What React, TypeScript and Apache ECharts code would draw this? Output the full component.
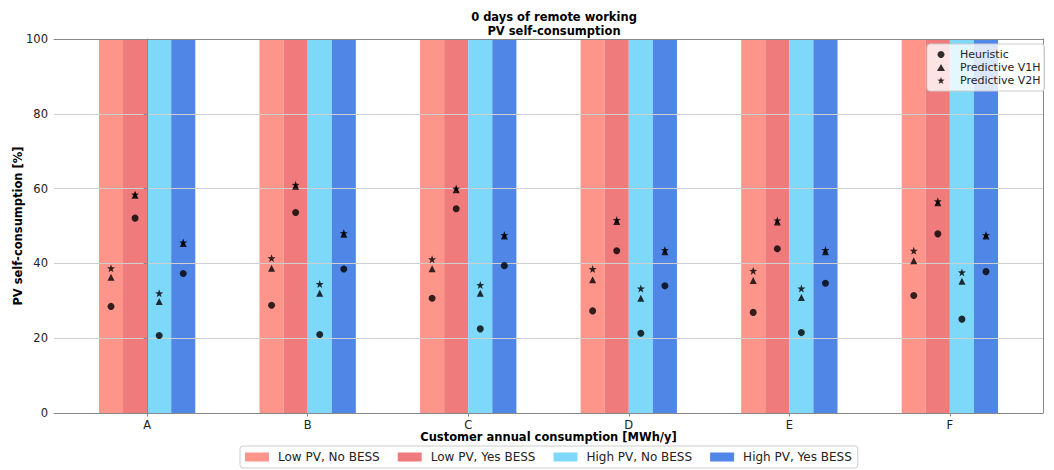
import React, { useEffect, useRef } from "react";
import * as echarts from "echarts";

const categories = ["A", "B", "C", "D", "E", "F"];
const scenarios = ["Low PV, No BESS", "Low PV, Yes BESS", "High PV, No BESS", "High PV, Yes BESS"];
const scenarioColors = ["#fe958b", "#ef7b7d", "#7dd8f9", "#5087e7"];
const barTop = [100, 100, 100, 100, 100, 100];
const yTicks = [0, 20, 40, 60, 80, 100];

// rows: scenarios (Low/No, Low/Yes, High/No, High/Yes), columns: categories A..F
const heuristic = [
  [28.5, 28.8, 30.7, 27.3, 26.9, 31.4],
  [52.1, 53.6, 54.6, 43.4, 43.9, 47.9],
  [20.7, 21.0, 22.5, 21.3, 21.5, 25.1],
  [37.3, 38.5, 39.4, 34.0, 34.7, 37.8],
];
const predictiveV1H = [
  [36.3, 38.7, 38.6, 35.6, 35.4, 40.7],
  [58.2, 60.6, 59.7, 51.2, 51.1, 56.2],
  [29.8, 32.0, 32.0, 30.7, 30.9, 35.2],
  [45.3, 47.8, 47.3, 43.1, 43.1, 47.3],
];
const predictiveV2H = [
  [38.7, 41.4, 41.1, 38.5, 38.0, 43.4],
  [58.4, 61.0, 60.0, 51.6, 51.5, 56.6],
  [32.0, 34.5, 34.2, 33.3, 33.3, 37.6],
  [45.6, 48.1, 47.6, 43.6, 43.6, 47.6],
];

const BAR_W = 0.15;
const offsets = [-1.5 * BAR_W, -0.5 * BAR_W, 0.5 * BAR_W, 1.5 * BAR_W];
const FONT = "DejaVu Sans";
const STAR =
  "path://M0,-10L2.35,-3.24L9.51,-3.09L3.8,1.24L5.88,8.09L0,4L-5.88,8.09L-3.8,1.24L-9.51,-3.09L-2.35,-3.24Z";

function scatterData(values: number[][]) {
  const out: number[][] = [];
  values.forEach((row, si) => {
    row.forEach((v, ci) => out.push([ci + offsets[si], v]));
  });
  return out;
}

export default function App() {
  const ref = useRef<HTMLDivElement>(null);
  useEffect(() => {
    document.body.style.margin = "0";
    const chart = echarts.init(ref.current!, null, { renderer: "svg" });
    const barSeries = scenarios.map((name, si) => ({
      name,
      type: "custom",
      z: 2,
      itemStyle: { color: scenarioColors[si] },
      encode: { x: 0, y: 1 },
      data: barTop.map((v, ci) => [ci, v]),
      renderItem: (params: any, api: any) => {
        const x = api.value(0) + offsets[si];
        const p1 = api.coord([x - BAR_W / 2, api.value(1)]);
        const p2 = api.coord([x + BAR_W / 2, 0]);
        return {
          type: "rect",
          shape: { x: p1[0], y: p1[1], width: p2[0] - p1[0], height: p2[1] - p1[1] },
          style: { fill: scenarioColors[si] },
        };
      },
    }));
    const methods = [
      { name: "Heuristic", values: heuristic, symbol: "circle", size: 7 },
      { name: "Predictive V1H", values: predictiveV1H, symbol: "triangle", size: 7 },
      { name: "Predictive V2H", values: predictiveV2H, symbol: STAR, size: 8 },
    ];
    const scatterSeries = methods.map((m) => ({
      name: m.name,
      type: "scatter",
      z: 5,
      symbol: m.symbol,
      symbolSize: m.size,
      itemStyle: { color: "#000" },
      data: scatterData(m.values),
    }));
    chart.setOption({
      animation: false,
      title: {
        text: "0 days of remote working\nPV self-consumption",
        left: 549,
        textAlign: "center",
        top: 5,
        textStyle: { fontFamily: FONT, fontSize: 11.5, fontWeight: "bold", color: "#000", lineHeight: 14 },
      },
      grid: { left: 54, right: 11, top: 39, bottom: 57, outerBoundsMode: "none", containLabel: false },
      xAxis: [
        {
          type: "value",
          min: -0.58,
          max: 5.58,
          name: "Customer annual consumption [MWh/y]",
          nameLocation: "middle",
          nameGap: 18,
          nameMoveOverlap: false,
          nameTextStyle: { fontFamily: FONT, fontSize: 11.5, fontWeight: "bold", color: "#000" },
          splitLine: { show: false },
          axisLine: { show: true, lineStyle: { color: "#888" } },
          axisTick: { show: true, length: 3.5, customValues: [0, 1, 2, 3, 4, 5], lineStyle: { color: "#888" } },
          axisLabel: {
            customValues: [0, 1, 2, 3, 4, 5],
            formatter: (v: number) => categories[Math.round(v)] ?? "",
            fontFamily: FONT,
            fontSize: 11.5,
            color: "#222",
            margin: 6,
          },
          z: 3,
        },
        {
          type: "value",
          position: "top",
          min: -0.58,
          max: 5.58,
          axisLine: { show: true, onZero: false, lineStyle: { color: "#888" } },
          axisTick: { show: false },
          axisLabel: { show: false },
          splitLine: { show: false },
          z: 3,
        },
      ],
      yAxis: [
        {
          type: "value",
          min: 0,
          max: 100,
          interval: 20,
          name: "PV self-consumption [%]",
          nameLocation: "middle",
          nameGap: 30,
          nameMoveOverlap: false,
          nameTextStyle: { fontFamily: FONT, fontSize: 11.5, fontWeight: "bold", color: "#000" },
          axisLine: { show: true, lineStyle: { color: "#888" } },
          axisTick: { show: true, length: 3.5, lineStyle: { color: "#888" } },
          axisLabel: {
            fontFamily: FONT,
            fontSize: 11.5,
            color: "#222",
            margin: 6,
            formatter: (v: number) => (yTicks.includes(v) ? String(v) : ""),
          },
          splitLine: { show: true, lineStyle: { color: "#cfcfcf", width: 1 } },
          z: 3,
        },
        {
          type: "value",
          position: "right",
          min: 0,
          max: 100,
          interval: 20,
          axisLine: { show: true, onZero: false, lineStyle: { color: "#888" } },
          axisTick: { show: false },
          axisLabel: { show: false },
          splitLine: { show: false },
          z: 3,
        },
      ],
      legend: [
        {
          data: scenarios,
          orient: "horizontal",
          left: 240,
          top: 446,
          icon: "rect",
          itemWidth: 24,
          itemHeight: 9,
          itemGap: 18,
          padding: [5, 6, 5, 5],
          borderColor: "#ccc",
          borderWidth: 1,
          borderRadius: 3,
          backgroundColor: "#fff",
          textStyle: { fontFamily: FONT, fontSize: 12, color: "#222", padding: [0, 0, 0, 4] },
        },
        {
          data: methods.map((m) => m.name),
          orient: "vertical",
          left: 927,
          top: 44,
          itemWidth: 8,
          itemHeight: 7,
          itemGap: 2,
          padding: [5, 4, 5, 10],
          borderColor: "#ccc",
          borderWidth: 1,
          borderRadius: 3,
          backgroundColor: "rgba(255,255,255,0.8)",
          textStyle: { fontFamily: FONT, fontSize: 11, color: "#222", padding: [0, 0, 0, 10] },
          z: 6,
        },
      ],
      series: [...barSeries, ...scatterSeries],
    });
    return () => chart.dispose();
  }, []);
  return <div ref={ref} style={{ width: 1054, height: 470 }} />;
}
